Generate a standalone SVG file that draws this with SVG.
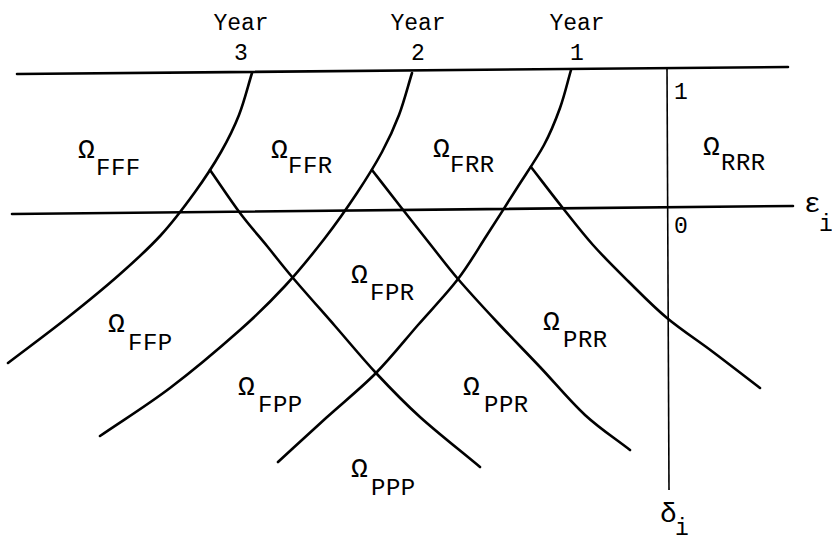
<svg xmlns="http://www.w3.org/2000/svg" width="832" height="542" viewBox="0 0 832 542">
<style>
  .ln { fill: none; stroke: #000; stroke-width: 2.6; stroke-linecap: round; stroke-linejoin: round; }
  .ax { fill: none; stroke: #000; stroke-width: 1.6; }
  .t { font-family: "Liberation Mono", "Courier New", monospace; fill: #000; }
  .yr { font-size: 23px; text-anchor: middle; }
  .om { font-size: 28px; }
  .sb { font-size: 24px; letter-spacing: 0.5px; }
  .nm { font-size: 23px; }
</style>
<rect width="832" height="542" fill="#fff"/>
<g id="axes">
  <line class="ln" x1="17" y1="74" x2="788" y2="67"/>
  <line class="ln" x1="12" y1="214" x2="793" y2="206"/>
  <line class="ax" x1="667" y1="67" x2="669" y2="490"/>
</g>
<g id="connectors">
  <path id="year3-left" class="ln" d="M252,73 C247.67,87 244.17,101.83 239,115 C233.83,128.17 228.33,139.17 221,152 C213.67,164.83 205,178.17 195,192 C185,205.83 173.67,221.17 161,235 C148.33,248.83 134.67,261.17 119,275 C103.33,288.83 85.5,303.33 67,318 C48.5,332.67 27.67,348 8,363"/>
  <path id="year2-left" class="ln" d="M412,73 C407.67,87 404,101.83 399,115 C394,128.17 389,139 382,152 C375,165 366.5,178.67 357,193 C347.5,207.33 337,222.5 325,238 C313,253.5 299.17,270.67 285,286 C270.83,301.33 259.17,313 240,330 C220.83,347 193.33,370.33 170,388 C146.67,405.67 123.33,420 100,436"/>
  <path id="year1-left" class="ln" d="M571,70 C567.33,82.67 564.5,95.5 560,108 C555.5,120.5 551.17,131.67 544,145 C536.83,158.33 526.5,173 517,188 C507.5,203 496.83,219.83 487,235 C477.17,250.17 469.5,264 458,279 C446.5,294 431.67,309.33 418,325 C404.33,340.67 391.33,357.5 376,373 C360.67,388.5 342.33,403.17 326,418 C309.67,432.830 294,447.33 278,462"/>
  <path id="year3-right" class="ln" d="M210,170 C220,184.33 230.5,200.33 240,213 C249.5,225.67 258.17,235.17 267,246 C275.83,256.83 281.67,264.67 293,278 C304.33,291.33 321.17,310.17 335,326 C348.83,341.83 361.83,357.83 376,373 C390.17,388.17 402.67,401.33 420,417 C437.33,432.67 460,450.33 480,467"/>
  <path id="year2-right" class="ln" d="M372,170 C381.33,182 390.33,193.67 400,206 C409.67,218.33 420.33,231.83 430,244 C439.67,256.17 446.83,266 458,279 C469.17,292 483.33,307.33 497,322 C510.67,336.67 525.33,351.5 540,367 C554.67,382.5 570,401.17 585,415 C600,428.83 615,438.33 630,450"/>
  <path id="year1-right" class="ln" d="M531,167 C541.33,180.33 551.67,194 562,207 C572.33,220 582,232.67 593,245 C604,257.33 615.67,268.83 628,281 C640.33,293.17 652.83,306.17 667,318 C681.17,329.83 697.5,340.33 713,352 C728.5,363.67 744.33,376 760,388"/>
</g>
<g id="year-labels" class="t">
  <text class="yr" x="241" y="30">Year</text>
  <text class="yr" x="241" y="60">3</text>
  <text class="yr" x="418" y="30">Year</text>
  <text class="yr" x="418" y="60">2</text>
  <text class="yr" x="577" y="30">Year</text>
  <text class="yr" x="577" y="60">1</text>
</g>
<g id="axis-labels" class="t">
  <text class="nm" x="674" y="99">1</text>
  <text class="nm" x="674" y="233">0</text>
  <text class="om" x="804" y="212">ε</text>
  <text class="nm" x="819" y="231">i</text>
  <text class="om" x="660" y="522">δ</text>
  <text class="nm" x="675" y="535">i</text>
</g>
<g id="region-FFF" class="t"><text class="om" x="78" y="158">Ω</text><text class="sb" x="96" y="175">FFF</text></g>
<g id="region-FFR" class="t"><text class="om" x="271" y="158">Ω</text><text class="sb" x="288" y="173">FFR</text></g>
<g id="region-FRR" class="t"><text class="om" x="433" y="157">Ω</text><text class="sb" x="450" y="172">FRR</text></g>
<g id="region-RRR" class="t"><text class="om" x="703" y="155">Ω</text><text class="sb" x="721" y="170">RRR</text></g>
<g id="region-FPR" class="t"><text class="om" x="351" y="283">Ω</text><text class="sb" x="370" y="300">FPR</text></g>
<g id="region-FFP" class="t"><text class="om" x="108" y="332">Ω</text><text class="sb" x="128" y="350">FFP</text></g>
<g id="region-PRR" class="t"><text class="om" x="543" y="330">Ω</text><text class="sb" x="563" y="347">PRR</text></g>
<g id="region-FPP" class="t"><text class="om" x="238" y="395">Ω</text><text class="sb" x="258" y="412">FPP</text></g>
<g id="region-PPR" class="t"><text class="om" x="463" y="395">Ω</text><text class="sb" x="484" y="412">PPR</text></g>
<g id="region-PPP" class="t"><text class="om" x="351" y="477">Ω</text><text class="sb" x="371" y="495">PPP</text></g>
</svg>
